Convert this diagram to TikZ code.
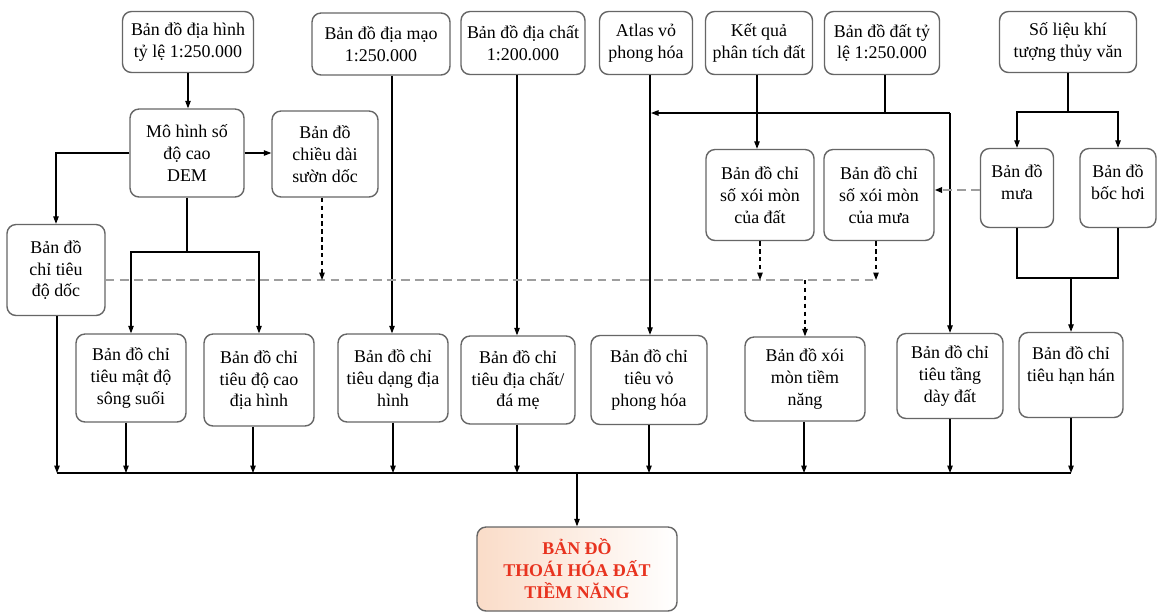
\documentclass[tikz,border=0pt]{standalone}
\usepackage{fontspec}
\setmainfont{Liberation Serif}
\usetikzlibrary{arrows.meta,calc}
\definecolor{fincol}{HTML}{FADCC8}
\definecolor{redtxt}{HTML}{E8331F}
\begin{document}
\begin{tikzpicture}[x=0.02cm,y=-0.02cm,
  box/.style={draw=black!60, line width=0.8pt, rounded corners=0.18cm, fill=white,
    align=center, inner sep=1pt, font=\fontsize{10.2}{12.5}\selectfont},
  ln/.style={draw=black, line width=0.6pt},
  arr/.style={ln, -{Triangle[length=0.15cm,width=0.11cm]}},
  darr/.style={arr, dash pattern=on 2.5pt off 2pt},
  gdash/.style={draw=black!38, line width=1.3pt, dash pattern=on 5pt off 3pt},
  garr/.style={gdash, -{Triangle[length=0.15cm,width=0.11cm,color=black]}}]
\useasboundingbox[fill=white] (0,0) rectangle (1158,613);

% top row
\node[box, minimum width=2.62cm, minimum height=1.22cm] (A1) at (188,42) {Bản đồ địa hình\\tỷ lệ 1:250.000};
\node[box, minimum width=2.76cm, minimum height=1.24cm] (A2) at (381,44) {Bản đồ địa mạo\\1:250.000};
\node[box, minimum width=2.48cm, minimum height=1.26cm] (A3) at (523,43) {Bản đồ địa chất\\1:200.000};
\node[box, minimum width=1.86cm, minimum height=1.26cm] (A4) at (646,43) {Atlas vỏ\\phong hóa};
\node[box, minimum width=2.14cm, minimum height=1.26cm] (A5) at (759,43) {Kết quả\\phân tích đất};
\node[box, minimum width=2.30cm, minimum height=1.26cm] (A6) at (882,43) {Bản đồ đất tỷ\\lệ 1:250.000};
\node[box, minimum width=2.74cm, minimum height=1.22cm] (A7) at (1068,42) {Số liệu khí\\tượng thủy văn};

% middle row
\node[box, minimum width=2.28cm, minimum height=1.76cm] (DEM) at (187,153) {Mô hình số\\độ cao\\DEM};
\node[box, minimum width=2.12cm, minimum height=1.72cm] (CD) at (325,154) {Bản đồ\\chiều dài\\sườn dốc};
\node[box, minimum width=1.96cm, minimum height=1.82cm] (DD) at (56,270) {Bản đồ\\chỉ tiêu\\độ dốc};
\node[box, minimum width=2.16cm, minimum height=1.82cm] (XD) at (760,195) {Bản đồ chỉ\\số xói mòn\\của đất};
\node[box, minimum width=2.20cm, minimum height=1.82cm] (XM) at (879,195) {Bản đồ chỉ\\số xói mòn\\của mưa};
\node[box, minimum width=1.46cm, minimum height=1.58cm, text depth=0.25cm] (MU) at (1017,188) {Bản đồ\\mưa};
\node[box, minimum width=1.52cm, minimum height=1.58cm, text depth=0.25cm] (BH) at (1118,188) {Bản đồ\\bốc hơi};

% bottom row
\node[box, minimum width=2.20cm, minimum height=1.76cm] (B1) at (131,378) {Bản đồ chỉ\\tiêu mật độ\\sông suối};
\node[box, minimum width=2.20cm, minimum height=1.84cm] (B2) at (259,380) {Bản đồ chỉ\\tiêu độ cao\\địa hình};
\node[box, minimum width=2.20cm, minimum height=1.76cm] (B3) at (393,378) {Bản đồ chỉ\\tiêu dạng địa\\hình};
\node[box, minimum width=2.28cm, minimum height=1.76cm] (B4) at (518,380) {Bản đồ chỉ\\tiêu địa chất/\\đá mẹ};
\node[box, minimum width=2.32cm, minimum height=1.78cm] (B5) at (649,380) {Bản đồ chỉ\\tiêu vỏ\\phong hóa};
\node[box, minimum width=2.40cm, minimum height=1.68cm] (B6) at (805,379) {Bản đồ xói\\mòn tiềm\\năng};
\node[box, minimum width=2.12cm, minimum height=1.70cm] (B7) at (950,376) {Bản đồ chỉ\\tiêu tầng\\dày đất};
\node[box, minimum width=2.08cm, minimum height=1.70cm] (B8) at (1071,375) {Bản đồ chỉ\\tiêu hạn hán\\\mbox{}};

% final
\node[box, minimum width=4cm, minimum height=1.68cm, left color=fincol, middle color=fincol!35, right color=white,
  text=redtxt, font=\fontsize{10.2}{12.5}\selectfont\bfseries] (FIN) at (577,569) {BẢN ĐỒ\\THOÁI HÓA ĐẤT\\TIỀM NĂNG};

% connectors, upper part
\draw[arr] (A1.south) -- (A1.south |- DEM.north);
\draw[arr] (DEM.east) -- (DEM.east -| CD.west);
\draw[arr] (DEM.west) -| (DD.north);
\coordinate (j1) at (187,252);
\draw[ln] (DEM.south) -- (j1);
\draw[arr] (j1) -| (B1.north);
\draw[arr] (j1) -| (B2.north);

\draw[arr] (A2.south -| 392,0) -- (B3.north -| 392,0);
\draw[arr] (A3.south -| 517,0) -- (B4.north -| 517,0);
\draw[arr] (A4.south -| 650,0) -- (B5.north -| 650,0);
\draw[arr] (A5.south -| 757,0) -- (XD.north -| 757,0);

\coordinate (j2) at (885,113);
\coordinate (j3) at (950,113);
\draw[ln] (A6.south -| j2) -- (j2);
\draw[arr] (j3) -- (j3 -| 651,0);
\draw[arr] (j3) -- (j3 |- B7.north);

\coordinate (j4) at (1068,112);
\draw[ln] (A7.south) -- (j4);
\draw[arr] (j4) -| (MU.north);
\draw[arr] (j4) -| (BH.north);
\draw[garr] (MU.west |- 0,190) -- (XM.east |- 0,190);
\coordinate (j5) at (1071,278);
\draw[ln] (MU.south) |- (j5);
\draw[ln] (BH.south) |- (j5);
\draw[arr] (j5) -- (j5 |- B8.north);

% dashed network
\coordinate (g1) at (322,280);
\coordinate (g2) at (876,280);
\draw[gdash] (DD.east |- g1) -- (g2);
\draw[darr] (CD.south -| g1) -- (g1);
\draw[darr] (XD.south) -- (XD.south |- g1);
\draw[darr] (XM.south -| g2) -- (g2);
\draw[darr] (B6.north |- g1) -- (B6.north);

% bus
\coordinate (busL) at (57,473);
\coordinate (busR) at (1071,473);
\coordinate (busM) at (577,473);
\draw[ln] (busL) -- (busR);
\draw[arr] (DD.south -| busL) -- (busL);
\draw[arr] (B1.south -| 126,0) -- (126,473);
\draw[arr] (B2.south -| 253,0) -- (253,473);
\draw[arr] (B3.south -| 393,0) -- (393,473);
\draw[arr] (B4.south -| 517,0) -- (517,473);
\draw[arr] (B5.south -| 649,0) -- (649,473);
\draw[arr] (B6.south -| 804,0) -- (804,473);
\draw[arr] (B7.south -| 950,0) -- (950,473);
\draw[arr] (B8.south -| busR) -- (busR);
\draw[arr] (busM) -- (FIN.north);
\end{tikzpicture}
\end{document}
